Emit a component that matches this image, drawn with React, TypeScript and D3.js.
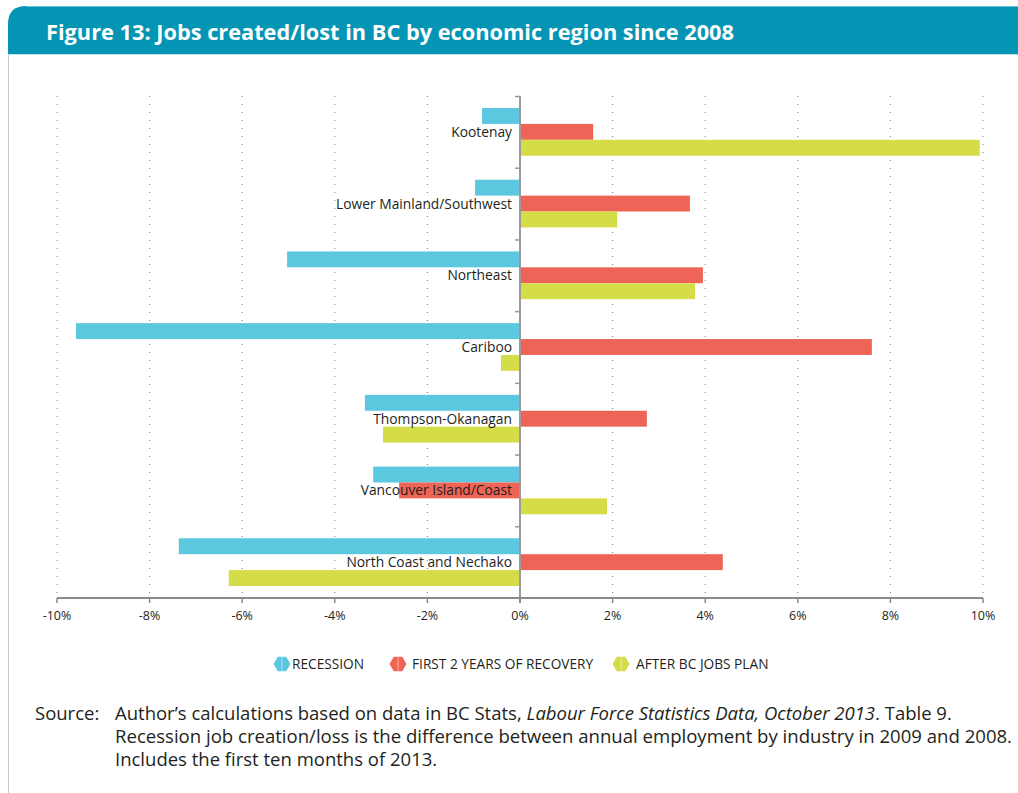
import React from "react";
import * as d3 from "d3";

const regions = [
  "Kootenay",
  "Lower Mainland/Southwest",
  "Northeast",
  "Cariboo",
  "Thompson-Okanagan",
  "Vancouver Island/Coast",
  "North Coast and Nechako",
];
const seriesNames = ["RECESSION", "FIRST 2 YEARS OF RECOVERY", "AFTER BC JOBS PLAN"];
const recession = [-0.82, -0.97, -5.03, -9.59, -3.35, -3.17, -7.37];
const recovery = [1.58, 3.67, 3.95, 7.6, 2.74, -2.61, 4.38];
const jobsPlan = [9.93, 2.1, 3.78, -0.41, -2.96, 1.88, -6.29];
const xTicks = [-10, -8, -6, -4, -2, 0, 2, 4, 6, 8, 10];
const colors = ["#5bc8df", "#ee6557", "#d4dd47"];

const W = 1018;
const H = 793;

export default function App() {
  const x = d3.scaleLinear().domain([-10, 10]).range([57, 983]);
  const y = d3.scaleBand<string>().domain(regions).range([96, 598]);
  const bw = y.bandwidth();
  const inner = d3
    .scaleBand<string>()
    .domain(seriesNames)
    .range([12, bw - 12]);
  const series = [recession, recovery, jobsPlan];
  const font = "'Open Sans', sans-serif";

  const hex = (cx: number, cy: number, r: number) => {
    const pts = d3.range(6).map((i) => {
      const a = (Math.PI / 3) * i;
      return [cx + r * Math.cos(a), cy + r * Math.sin(a)];
    });
    return "M" + pts.map((p) => p.join(",")).join("L") + "Z";
  };

  const legendPos = [
    { icon: 282, text: 292 },
    { icon: 398, text: 412 },
    { icon: 621, text: 636 },
  ];

  return (
    <svg
      width={W}
      height={H}
      style={{ position: "absolute", left: 0, top: 0, background: "#fff" }}
      fontFamily={font}
    >
      {/* header */}
      <path d={`M8,54 L8,24 Q8,6 26,6 L1018,6 L1018,54 Z`} fill="#0595b4" />
      <line x1={26} x2={1018} y1={6.5} y2={6.5} stroke="#6cc3d6" strokeWidth={1} />
      <line x1={8} x2={1018} y1={54.5} y2={54.5} stroke="#bfe3ec" strokeWidth={1} />
      <line x1={8.5} x2={8.5} y1={55} y2={793} stroke="#c8c8c8" strokeWidth={1} />
      <text
        x={46}
        y={40}
        fill="#fff"
        fontSize={21}
        fontWeight={700}
        textLength={688}
        lengthAdjust="spacingAndGlyphs"
      >
        Figure 13: Jobs created/lost in BC by economic region since 2008
      </text>

      {/* gridlines */}
      {xTicks
        .filter((t) => t !== 0)
        .map((t) => (
          <line
            key={"g" + t}
            x1={x(t)}
            x2={x(t)}
            y1={96}
            y2={598}
            stroke="#7a7a7a"
            strokeWidth={1}
            strokeDasharray="1,7"
          />
        ))}

      {/* bars */}
      {regions.map((r, i) =>
        series.map((s, j) => {
          const v = s[i];
          const x0 = x(Math.min(0, v));
          const x1 = x(Math.max(0, v));
          return (
            <rect
              key={r + j}
              x={x0}
              y={(y(r) as number) + (inner(seriesNames[j]) as number)}
              width={x1 - x0}
              height={inner.bandwidth()}
              fill={colors[j]}
            />
          );
        })
      )}

      {/* zero axis */}
      <line x1={x(0)} x2={x(0)} y1={96} y2={603} stroke="#9a9a9a" strokeWidth={2} />
      {regions.map((r) => (
        <line
          key={"t" + r}
          x1={x(0) - 5}
          x2={x(0)}
          y1={(y(r) as number) + 0.5}
          y2={(y(r) as number) + 0.5}
          stroke="#9a9a9a"
          strokeWidth={1.5}
        />
      ))}

      {/* bottom axis */}
      <line x1={x(-10)} x2={x(10)} y1={598} y2={598} stroke="#8a8a8a" strokeWidth={2} />
      {xTicks.map((t) => (
        <g key={"x" + t}>
          <line x1={x(t)} x2={x(t)} y1={598} y2={603} stroke="#8a8a8a" strokeWidth={1.5} />
          <text x={x(t)} y={620} textAnchor="middle" fontSize={12.5} fill="#231f20">
            {t + "%"}
          </text>
        </g>
      ))}

      {/* category labels */}
      {regions.map((r) => (
        <text
          key={"l" + r}
          x={512}
          y={(y(r) as number) + bw / 2 + 5}
          textAnchor="end"
          fontSize={13.8}
          fill="#231f20"
        >
          {r}
        </text>
      ))}

      {/* legend */}
      {seriesNames.map((n, j) => (
        <g key={"lg" + n}>
          <path d={hex(legendPos[j].icon, 664, 8.5)} fill={colors[j]} />
          <line
            x1={legendPos[j].icon}
            x2={legendPos[j].icon}
            y1={657}
            y2={671}
            stroke="#fff"
            strokeWidth={0.8}
            opacity={0.6}
          />
          <text x={legendPos[j].text} y={669} fontSize={13.7} fill="#231f20">
            {n}
          </text>
        </g>
      ))}

      {/* source */}
      <g fontSize={18.5} fill="#231f20">
        <text x={35} y={720}>Source:</text>
        <text x={115} y={720}>
          Author’s calculations based on data in BC Stats,{" "}
          <tspan fontStyle="italic">Labour Force Statistics Data, October 2013</tspan>. Table 9.
        </text>
        <text x={115} y={743} textLength={897} lengthAdjust="spacingAndGlyphs">
          Recession job creation/loss is the difference between annual employment by industry in 2009 and 2008.
        </text>
        <text x={115} y={766}>Includes the first ten months of 2013.</text>
      </g>
    </svg>
  );
}
